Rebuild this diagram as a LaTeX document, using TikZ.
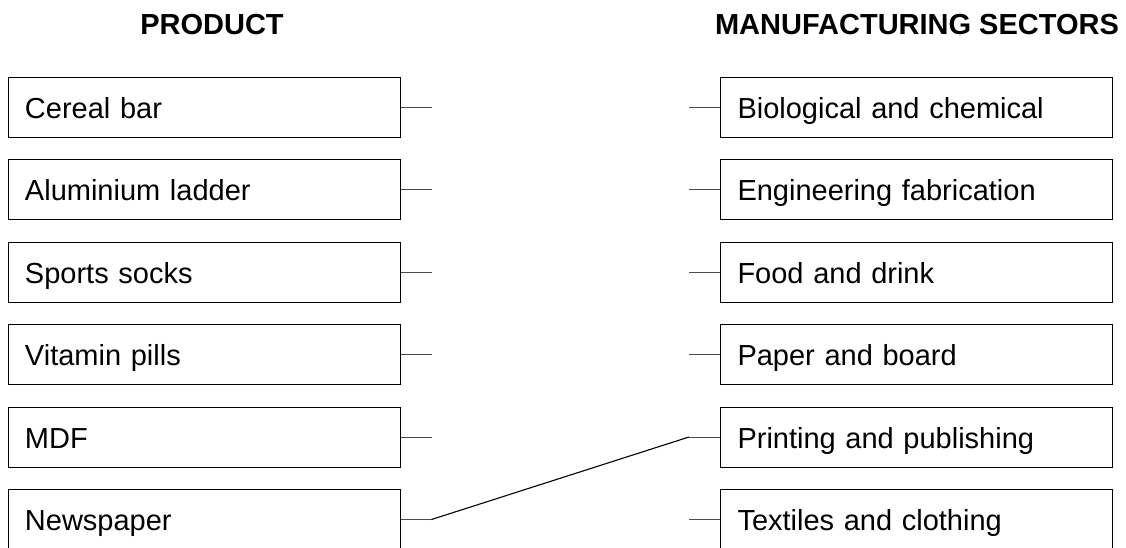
\documentclass[tikz,border=0pt]{standalone}
\usepackage{fontspec}
\setmainfont{Liberation Sans}
\usepackage{tikz}

\tikzset{
  item/.style={draw, line width=0.5pt, minimum height=30pt, inner xsep=8.5pt,
    text width=179pt, text height=14pt, text depth=3pt, align=left,
    font=\fontsize{14.5}{17}\selectfont},
  head/.style={font=\fontsize{14.5}{17}\selectfont\bfseries},
  tick/.style={line width=0.5pt, black!70},
  link/.style={line width=0.55pt}
}

\begin{document}
\begin{tikzpicture}[x=0.5pt, y=-0.5pt]
    \useasboundingbox (0,0) rectangle (1126,547);
    % headings
    \node[head] (hp) at (212,25) {PRODUCT};
    \node[head] (hs) at (917,25) {MANUFACTURING SECTORS};
    % products
    \node[item] (p1) at (204,107) {Cereal bar};
    \node[item] (p2) at (204,189.5) {Aluminium ladder};
    \node[item] (p3) at (204,272) {Sports socks};
    \node[item] (p4) at (204,354.5) {Vitamin pills};
    \node[item] (p5) at (204,437) {MDF};
    \node[item] (p6) at (204,519.5) {Newspaper};
    % sectors
    \node[item] (s1) at (916.5,107) {Biological and chemical};
    \node[item] (s2) at (916.5,189.5) {Engineering fabrication};
    \node[item] (s3) at (916.5,272) {Food and drink};
    \node[item] (s4) at (916.5,354.5) {Paper and board};
    \node[item] (s5) at (916.5,437) {Printing and publishing};
    \node[item] (s6) at (916.5,519.5) {Textiles and clothing};
    % tick ends
    \foreach \i in {1,...,6} {
      \coordinate (pe\i) at ([xshift=31*0.5pt]p\i.east);
      \coordinate (se\i) at ([xshift=-31*0.5pt]s\i.west);
      \draw[tick] (p\i.east) -- (pe\i);
      \draw[tick] (s\i.west) -- (se\i);
    }
    % the answer
    \draw[link] (pe6) -- (se5);
  \end{tikzpicture}
\end{document}
